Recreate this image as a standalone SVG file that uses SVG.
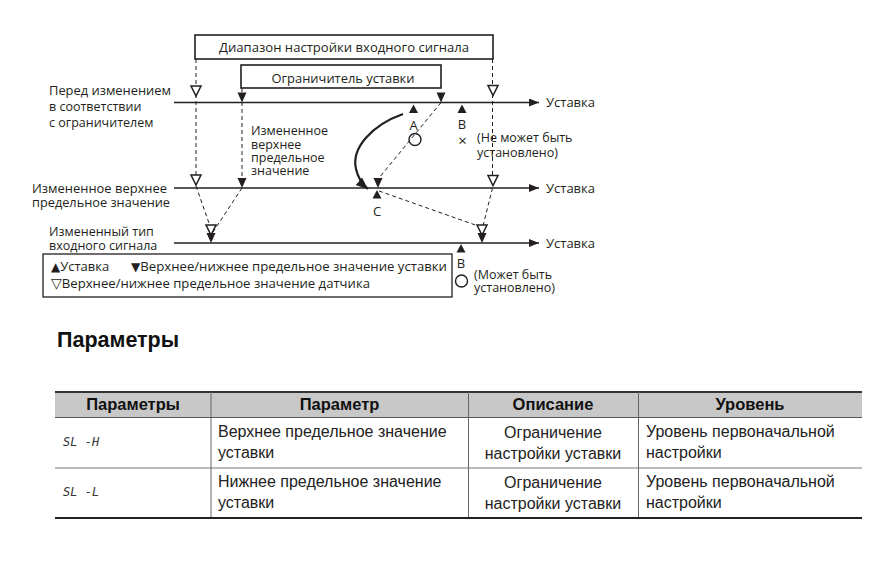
<svg xmlns="http://www.w3.org/2000/svg" width="891" height="584" viewBox="0 0 891 584">
<defs>
<style>
.t{font-family:"Open Sans","Noto Sans","DejaVu Sans",sans-serif;font-size:13px;fill:#231f20}
.s{font-size:12.5px}
.tm{text-anchor:middle}
.axis{stroke:#231f20;stroke-width:1.3;fill:none}
.dash{stroke:#231f20;stroke-width:1;stroke-dasharray:4 3;fill:none}
.box{fill:#fff;stroke:#231f20;stroke-width:1.6}
.open{fill:#fff;stroke:#231f20;stroke-width:1.5}
.fill{fill:#231f20}
.tb{font-family:"Liberation Sans",Arial,sans-serif;font-size:16px;fill:#222}
.th{font-family:"Liberation Sans",Arial,sans-serif;font-size:16.5px;font-weight:bold;fill:#111;text-anchor:middle}
.code{font-family:"DejaVu Sans Mono",monospace;font-size:12px;fill:#333;font-style:italic}
.sym{font-family:"DejaVu Sans",sans-serif;font-size:12px}
</style>
<marker id="ah" viewBox="0 0 10 8" refX="10" refY="4" markerWidth="10" markerHeight="8" markerUnits="userSpaceOnUse" orient="auto">
<polygon points="0,0 10,4 0,8" fill="#231f20"/>
</marker>
<marker id="ch" viewBox="0 0 12 10" refX="12" refY="5" markerWidth="12" markerHeight="10" markerUnits="userSpaceOnUse" orient="auto">
<polygon points="0,0 12,5 0,10" fill="#231f20"/>
</marker>
<polygon id="dn" points="-4.5,0 4.5,0 0,10" class="fill"/>
<polygon id="up" points="-4.5,0 4.5,0 0,-8.5" class="fill"/>
<polygon id="op" points="-5,0 5,0 0,10" class="open"/>
</defs>
<rect width="891" height="584" fill="#fff"/>

<g id="connectors">
<line class="axis" x1="174" y1="102.5" x2="539" y2="102.5" marker-end="url(#ah)"/>
<line class="axis" x1="174" y1="188" x2="539" y2="188" marker-end="url(#ah)"/>
<line class="axis" x1="174" y1="243" x2="539" y2="243" marker-end="url(#ah)"/>
<line class="dash" x1="196" y1="59" x2="196" y2="175"/>
<line class="dash" x1="242" y1="88" x2="242" y2="180"/>
<line class="dash" x1="492.5" y1="59" x2="492.5" y2="175"/>
<line class="dash" x1="196" y1="186" x2="210" y2="226"/>
<line class="dash" x1="242" y1="188" x2="213" y2="232"/>
<line class="dash" x1="441" y1="102.5" x2="379" y2="178"/>
<line class="dash" x1="492.5" y1="188" x2="483" y2="226"/>
<line class="dash" x1="379" y1="191" x2="481" y2="227"/>
<path d="M403,114 C372,125 351,148 356,169 C358,178 362,184 368,189" fill="none" stroke="#231f20" stroke-width="2.2" marker-end="url(#ch)"/>
</g>

<g id="range-box">
<rect class="box" x="195" y="35" width="298" height="24"/>
<text class="t tm" x="344" y="52" textLength="250" lengthAdjust="spacingAndGlyphs">Диапазон настройки входного сигнала</text>
</g>
<g id="limiter-box">
<rect class="box" x="241" y="65" width="200" height="23"/>
<text class="t tm" x="343" y="83" textLength="143" lengthAdjust="spacingAndGlyphs">Ограничитель уставки</text>
</g>

<g id="labels-left">
<text class="t" x="49" y="95" textLength="122" lengthAdjust="spacingAndGlyphs">Перед изменением</text>
<text class="t s" x="49" y="111">в соответствии</text>
<text class="t s" x="49" y="127">с ограничителем</text>
<text class="t s" x="32" y="193" textLength="135" lengthAdjust="spacingAndGlyphs">Измененное верхнее</text>
<text class="t s" x="32" y="207" textLength="138" lengthAdjust="spacingAndGlyphs">предельное значение</text>
<text class="t s" x="49" y="236">Измененный тип</text>
<text class="t s" x="49" y="249.5">входного сигнала</text>
</g>

<g id="labels-axis">
<text class="t" x="546" y="107">Уставка</text>
<text class="t" x="546" y="193">Уставка</text>
<text class="t" x="546" y="248">Уставка</text>
<text class="t s" x="251" y="135">Измененное</text>
<text class="t s" x="251" y="148.5">верхнее</text>
<text class="t s" x="251" y="161.5">предельное</text>
<text class="t s" x="251" y="175">значение</text>
</g>

<g id="markers-line1">
<use href="#op" x="196" y="86"/>
<use href="#dn" x="242" y="92.5"/>
<use href="#dn" x="441" y="92.5"/>
<use href="#op" x="493" y="85.5"/>
</g>
<g id="markers-line2">
<use href="#op" x="196" y="175"/>
<use href="#dn" x="242" y="178"/>
<use href="#dn" x="378" y="178"/>
<use href="#op" x="493" y="175.5"/>
</g>
<g id="markers-line3">
<use href="#op" x="211" y="225"/>
<use href="#dn" x="211" y="233"/>
<use href="#op" x="482" y="225"/>
<use href="#dn" x="482" y="233"/>
</g>

<g id="point-A">
<use href="#up" x="413.5" y="113"/>
<text class="t tm" x="413.5" y="130">A</text>
<circle cx="415" cy="139.5" r="6" fill="none" stroke="#231f20" stroke-width="1.4"/>
</g>
<g id="point-B-top">
<use href="#up" x="462" y="113"/>
<text class="t tm" x="462" y="129">B</text>
<text class="t tm" x="462.5" y="146" style="font-size:15px">×</text>
<text class="t s" x="477" y="142">(Не может быть</text>
<text class="t s" x="477" y="157">установлено)</text>
</g>
<g id="point-C">
<use href="#up" x="377" y="198.5"/>
<text class="t tm" x="377" y="216">C</text>
</g>
<g id="point-B-bottom">
<use href="#up" x="461" y="252.5"/>
<text class="t tm" x="461" y="268">B</text>
<circle cx="461.5" cy="281" r="6" fill="none" stroke="#231f20" stroke-width="1.4"/>
<text class="t s" x="474" y="278.5">(Может быть</text>
<text class="t s" x="474" y="291.5">установлено)</text>
</g>

<g id="legend">
<rect x="43" y="254" width="409" height="43" fill="none" stroke="#231f20" stroke-width="1.3"/>
<text class="t" x="51" y="270.5"><tspan class="sym">▲</tspan>Уставка</text>
<text class="t" x="131" y="270.5" textLength="316" lengthAdjust="spacingAndGlyphs"><tspan class="sym">▼</tspan>Верхнее/нижнее предельное значение уставки</text>
<text class="t" x="51" y="287.5" textLength="319" lengthAdjust="spacingAndGlyphs"><tspan class="sym" style="font-size:14px">▽</tspan>Верхнее/нижнее предельное значение датчика</text>
</g>

<g id="heading">
<text x="57" y="347" style="font-family:'Liberation Sans',Arial,sans-serif;font-size:21.5px;font-weight:bold;fill:#111">Параметры</text>
</g>

<g id="table">
<rect x="55" y="392" width="807" height="25.5" fill="#c8c8c8"/>
<line x1="55" y1="392" x2="862" y2="392" stroke="#333" stroke-width="2"/>
<line x1="55" y1="417.5" x2="862" y2="417.5" stroke="#555" stroke-width="1"/>
<line x1="55" y1="468" x2="862" y2="468" stroke="#777" stroke-width="1"/>
<line x1="55" y1="518" x2="862" y2="518" stroke="#222" stroke-width="2"/>
<line x1="211" y1="392" x2="211" y2="517" stroke="#666" stroke-width="1"/>
<line x1="468.5" y1="392" x2="468.5" y2="517" stroke="#666" stroke-width="1"/>
<line x1="638.5" y1="392" x2="638.5" y2="517" stroke="#666" stroke-width="1"/>
<text class="th" x="133" y="410">Параметры</text>
<text class="th" x="339.5" y="410">Параметр</text>
<text class="th" x="553" y="410">Описание</text>
<text class="th" x="750" y="410">Уровень</text>
<g id="row-SL-H">
<text class="code" x="63" y="446">SL -H</text>
<text class="tb" x="218" y="437">Верхнее предельное значение</text>
<text class="tb" x="218" y="458">уставки</text>
<text class="tb" x="553" y="438" text-anchor="middle">Ограничение</text>
<text class="tb" x="553" y="459" text-anchor="middle">настройки уставки</text>
<text class="tb" x="646" y="437">Уровень первоначальной</text>
<text class="tb" x="646" y="458">настройки</text>
</g>
<g id="row-SL-L">
<text class="code" x="63" y="496">SL -L</text>
<text class="tb" x="218" y="487">Нижнее предельное значение</text>
<text class="tb" x="218" y="508">уставки</text>
<text class="tb" x="553" y="488" text-anchor="middle">Ограничение</text>
<text class="tb" x="553" y="509" text-anchor="middle">настройки уставки</text>
<text class="tb" x="646" y="487">Уровень первоначальной</text>
<text class="tb" x="646" y="508">настройки</text>
</g>
</g>
</svg>
